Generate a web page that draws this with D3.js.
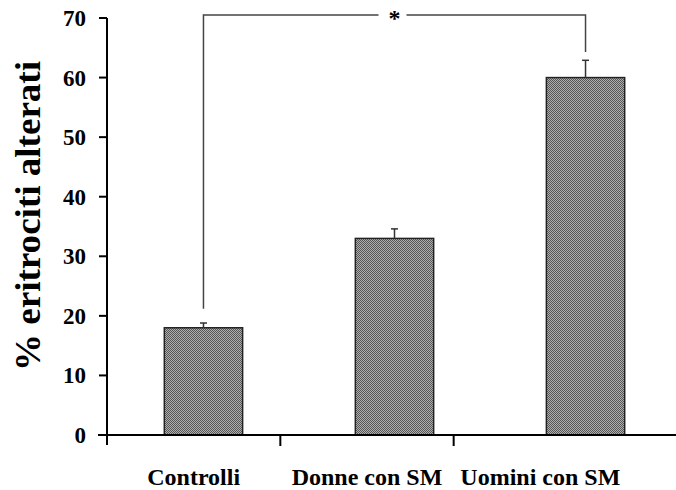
<!DOCTYPE html>
<html>
<head>
<meta charset="utf-8">
<script src="https://cdn.jsdelivr.net/npm/d3@7"></script>
<style>
  html, body { margin: 0; padding: 0; background: #fff; }
  svg { display: block; }
</style>
</head>
<body>
<svg id="chart" width="676" height="490"></svg>
<script>
// ---- data ----
const categories = ["Controlli", "Donne con SM", "Uomini con SM"];
const values = [18, 33, 60];
const errors = [0.8, 1.6, 2.9];
const yTicks = [0, 10, 20, 30, 40, 50, 60, 70];
const yTitle = "% eritrociti alterati";
const sigPair = ["Controlli", "Uomini con SM"];
const sigLevels = [21.2, 70.5, 64.3]; // left end, top, right end (in y units)
const sigLabel = "*";

// ---- layout ----
const svg = d3.select("#chart");
const W = 676, H = 490;
const font = "'Liberation Serif', 'Times New Roman', serif";

const y = d3.scaleLinear().domain([0, 70]).range([435, 18]);
const xAxisScale = d3.scaleBand().domain(categories).range([107, 627]).padding(0);
const xBar = d3.scaleBand().domain(categories).range([107, 682])
  .paddingInner(0.59).paddingOuter(0.3);

// pattern fill
const defs = svg.append("defs");
const pat = defs.append("pattern").attr("id", "checker")
  .attr("width", 2).attr("height", 2).attr("patternUnits", "userSpaceOnUse");
pat.append("rect").attr("width", 2).attr("height", 2).attr("fill", "#b0b0b0");
pat.append("rect").attr("x", 0).attr("y", 0).attr("width", 1).attr("height", 1).attr("fill", "#555");
pat.append("rect").attr("x", 1).attr("y", 1).attr("width", 1).attr("height", 1).attr("fill", "#555");

// bars
svg.append("g").selectAll("rect").data(categories).join("rect")
  .attr("x", d => xBar(d))
  .attr("y", (d, i) => y(values[i]))
  .attr("width", xBar.bandwidth())
  .attr("height", (d, i) => y(0) - y(values[i]))
  .attr("fill", "url(#checker)")
  .attr("stroke", "#222")
  .attr("stroke-width", 1.5);

// error bars
const eg = svg.append("g").attr("stroke", "#333").attr("stroke-width", 1.5);
categories.forEach((c, i) => {
  const cx = xBar(c) + xBar.bandwidth() / 2;
  eg.append("line").attr("x1", cx).attr("x2", cx)
    .attr("y1", y(values[i])).attr("y2", y(values[i] + errors[i]));
  eg.append("line").attr("x1", cx - 3.5).attr("x2", cx + 3.5)
    .attr("y1", y(values[i] + errors[i])).attr("y2", y(values[i] + errors[i]));
});

// significance bracket
const sx1 = xBar(sigPair[0]) + xBar.bandwidth() / 2;
const sx2 = xBar(sigPair[1]) + xBar.bandwidth() / 2;
const smid = (sx1 + sx2) / 2;
const bg = svg.append("g").attr("stroke", "#444").attr("stroke-width", 1.5).attr("fill", "none");
bg.append("path").attr("d", `M${sx1},${y(sigLevels[0])}V${y(sigLevels[1])}H${smid - 16}`);
bg.append("path").attr("d", `M${smid + 12},${y(sigLevels[1])}H${sx2}V${y(sigLevels[2])}`);
svg.append("text").attr("x", smid).attr("y", y(sigLevels[1]) + 11)
  .attr("text-anchor", "middle").attr("font-family", font).attr("font-weight", "bold")
  .attr("font-size", 24).attr("fill", "#000").text(sigLabel);

// y axis
const ag = svg.append("g").attr("stroke", "#000").attr("stroke-width", 2);
ag.append("line").attr("x1", 107).attr("x2", 107).attr("y1", y(70)).attr("y2", y(0) + 10);
ag.selectAll(".yt").data(yTicks).join("line")
  .attr("x1", 99).attr("x2", 107).attr("y1", d => y(d)).attr("y2", d => y(d));
svg.append("g").selectAll("text").data(yTicks).join("text")
  .attr("x", 86).attr("y", d => y(d)).attr("dy", "0.35em")
  .attr("text-anchor", "end").attr("font-family", font).attr("font-weight", "bold")
  .attr("font-size", 23).attr("fill", "#000").text(d => d);

// x axis
ag.append("line").attr("x1", 98).attr("x2", W).attr("y1", y(0)).attr("y2", y(0));
ag.selectAll(".xt").data(categories.slice(1)).join("line")
  .attr("x1", d => xAxisScale(d)).attr("x2", d => xAxisScale(d))
  .attr("y1", y(0)).attr("y2", y(0) + 11);
svg.append("g").selectAll("text").data(categories).join("text")
  .attr("x", d => xAxisScale(d) + xAxisScale.bandwidth() / 2).attr("y", 485)
  .attr("text-anchor", "middle").attr("font-family", font).attr("font-weight", "bold")
  .attr("font-size", 24).attr("fill", "#000").text(d => d);

// y title
svg.append("text")
  .attr("transform", `translate(40,216) rotate(-90)`)
  .attr("text-anchor", "middle").attr("font-family", font).attr("font-weight", "bold")
  .attr("font-size", 35).attr("textLength", 310).attr("lengthAdjust", "spacingAndGlyphs")
  .attr("fill", "#000").text(yTitle);
</script>
</body>
</html>
